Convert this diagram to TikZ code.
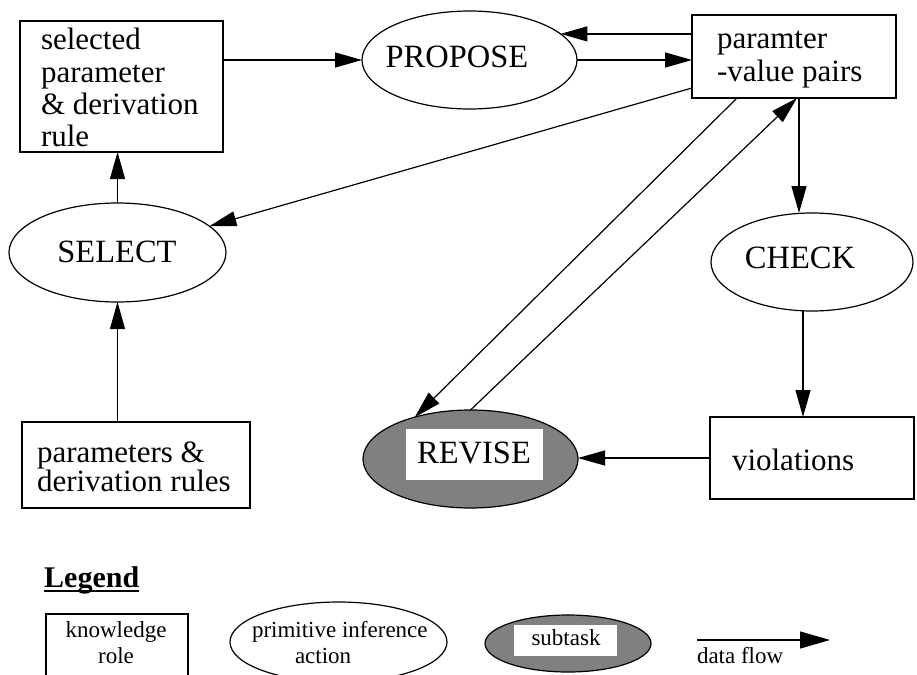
\documentclass[tikz,border=0pt]{standalone}
\usepackage{fontspec}
\setmainfont{Liberation Serif}
\usetikzlibrary{arrows.meta,shapes.geometric}
\definecolor{subgray}{HTML}{808080}
% stacked lines with a fixed baseline distance; the box baseline is the first line
\newcommand\leftlines[2]{\vtop{\baselineskip=#1pt\lineskip=0pt\lineskiplimit=-1000pt\halign{##\hfil\cr#2\crcr}}}
\newcommand\midlines[2]{\vtop{\baselineskip=#1pt\lineskip=0pt\lineskiplimit=-1000pt\halign{\hfil##\hfil\cr#2\crcr}}}
\newcommand\mainsize{\fontsize{31}{32}\selectfont}
\newcommand\actsize{\fontsize{32.5}{34}\selectfont}
\newcommand\legsize{\fontsize{23}{26}\selectfont}
\begin{document}
\begin{tikzpicture}[x=1pt,y=-1pt,
  role/.style={draw,line width=1.2pt,rectangle,inner sep=0pt,outer sep=0pt},
  act/.style={draw,line width=1.2pt,ellipse,inner sep=0pt,outer sep=0pt},
  subt/.style={act,fill=subgray},
  txt/.style={inner sep=0pt,outer sep=0pt,font=\mainsize},
  atxt/.style={inner sep=0pt,outer sep=0pt,font=\actsize},
  ltxt/.style={inner sep=0pt,outer sep=0pt,font=\legsize},
  flow/.style={line width=1.2pt,-{Triangle[length=27pt,width=15pt]}},
  lflow/.style={line width=1.2pt,-{Triangle[length=30pt,width=17pt]}}]
\clip (0,0) rectangle (917,674);
\fill[white] (0,0) rectangle (917,674);

% knowledge roles
\node[role,minimum width=203pt,minimum height=131pt] (selbox) at (121.5,86.5) {};
\node[txt,anchor=base west] (seltxt) at (41,50)
  {\leftlines{32.3}{selected\cr parameter\cr \& derivation\cr rule}};
\node[role,minimum width=204pt,minimum height=83pt] (pairs) at (794,56.5) {};
\node[txt,anchor=base west] (pairstxt) at (717,48.3)
  {\leftlines{33.4}{paramter\cr -value pairs}};
\node[role,minimum width=228pt,minimum height=86pt] (params) at (136,465) {};
\node[txt,anchor=base west] (paramstxt) at (37,462.5)
  {\leftlines{28.6}{parameters \&\cr derivation rules}};
\node[role,minimum width=204pt,minimum height=82pt] (viol) at (812,458) {};
\node[txt,anchor=base west] (violtxt) at (732,470) {violations};

% inference actions
\node[act,minimum width=215pt,minimum height=98pt] (propose) at (469.5,60) {};
\node[atxt,anchor=base] (proposetxt) at (457,68) {PROPOSE};
\node[act,minimum width=217pt,minimum height=99pt] (select) at (117.5,252.5) {};
\node[atxt,anchor=base] (selecttxt) at (117,262) {SELECT};
\node[act,minimum width=202pt,minimum height=98pt] (check) at (812,262) {};
\node[atxt,anchor=base] (checktxt) at (800,268) {CHECK};

% subtask
\node[subt,minimum width=215pt,minimum height=98pt] (revise) at (470.5,459) {};
\node[fill=white,inner sep=0pt,minimum width=137pt,minimum height=51pt] (revbg) at (474.5,454.5) {};
\node[atxt,anchor=base] (revisetxt) at (474,463) {REVISE};

% data flows
\coordinate (bsel) at ([yshift=-31.5pt]pairs.west);
\coordinate (brev) at ([xshift=-57pt]pairs.south);
\coordinate (bin) at ([xshift=3pt]pairs.south);
\coordinate (bchk) at ([xshift=5pt]pairs.south);
\coordinate (cv) at ([xshift=-9pt]check.south);
\draw[flow] (selbox.east |- propose.west) -- (propose.west);
\draw[flow] (propose.16 -| pairs.west) -- (propose.16);
\draw[flow] (propose.east) -- (propose.east -| pairs.west);
\draw[flow] (bsel) -- (select);
\draw[flow] (brev) -- (revise.143);
\draw[flow] (revise.north) -- (bin);
\draw[flow] (bchk) -- (bchk |- check.north);
\draw[flow] (cv) -- (cv |- viol.north);
\draw[flow] (viol.west) -- (viol.west -| revise.east);
\draw[flow] (select.south |- params.north) -- (select.south);
\draw[flow] (select.north) -- (select.north |- selbox.south);

% legend
\node[inner sep=0pt,anchor=base west,font=\fontsize{30}{32}\selectfont\bfseries] (legtitle) at (44,587) {Legend};
\draw[line width=2pt] ([yshift=-4pt]legtitle.base west) -- ([yshift=-4pt]legtitle.base east);
\node[role,minimum width=142pt,minimum height=120pt] (lrole) at (117,674) {};
\node[ltxt,anchor=base] (lroletxt) at (116,637) {\midlines{26}{knowledge\cr role}};
\node[act,minimum width=217pt,minimum height=80pt] (lact) at (338.5,642) {};
\node[ltxt,anchor=base west] (lacttxt) at (252,637)
  {\leftlines{26}{primitive inference\cr \hskip 43pt action}};
\node[subt,minimum width=166pt,minimum height=57pt] (lsub) at (568,643.5) {};
\node[fill=white,inner sep=0pt,minimum width=103.5pt,minimum height=31pt] (lsubbg) at (565.3,640.5) {};
\node[ltxt,anchor=base] (lsubtxt) at (566,645) {subtask};
\coordinate (dfa) at (697,640);
\coordinate (dfb) at (830,640);
\draw[lflow] (dfa) -- (dfb);
\node[ltxt,anchor=base west] (dftxt) at (697,663) {data flow};
\end{tikzpicture}
\end{document}
